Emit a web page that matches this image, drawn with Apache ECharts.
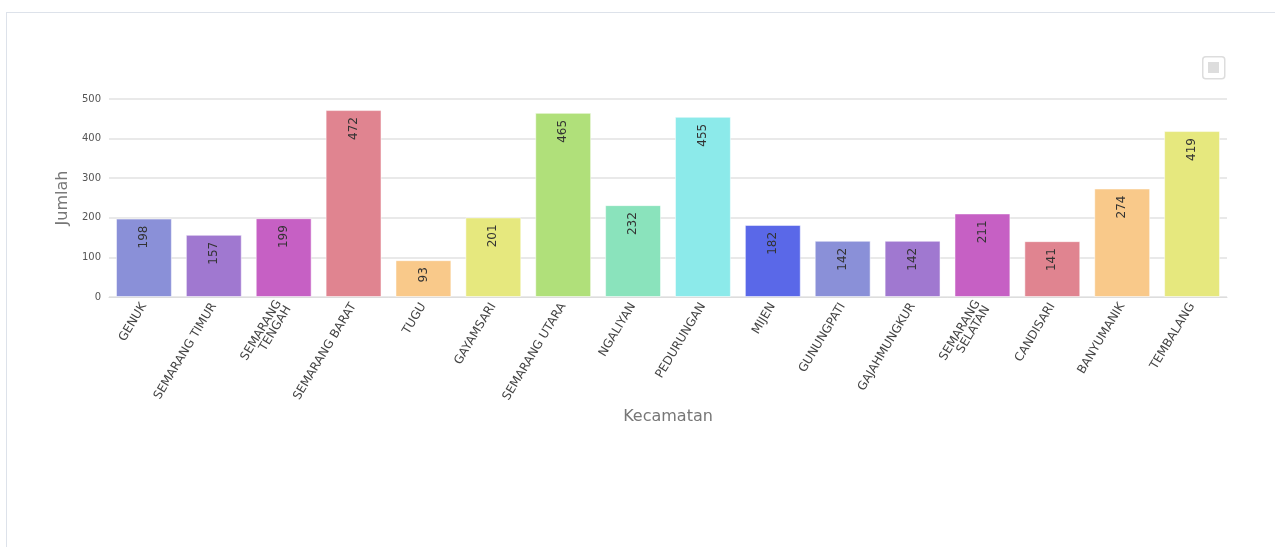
<!DOCTYPE html>
<html><head><meta charset="utf-8">
<script src="https://cdn.jsdelivr.net/npm/echarts@6/dist/echarts.min.js"></script>
<style>
html,body{margin:0;padding:0;background:#fff;}
#frame{position:absolute;left:6px;top:12px;width:1290px;height:600px;border:1px solid #dde2ea;box-sizing:border-box;}
#c{position:absolute;left:0;top:0;width:1275px;height:547px;}
</style></head>
<body>
<div id="frame"></div>
<div id="c"></div>
<script>
const categories = ['GENUK','SEMARANG TIMUR','SEMARANG\nTENGAH','SEMARANG BARAT','TUGU','GAYAMSARI','SEMARANG UTARA','NGALIYAN','PEDURUNGAN','MIJEN','GUNUNGPATI','GAJAHMUNGKUR','SEMARANG\nSELATAN','CANDISARI','BANYUMANIK','TEMBALANG'];
const values = [198,157,199,472,93,201,465,232,455,182,142,142,211,141,274,419];
const colors = ['#8a90d8','#a078d0','#c660c4','#e08490','#f9c98a','#e6e87e','#b0e07a','#8ae3bc','#8ceaea','#5a68e8','#8a90d8','#a078d0','#c660c4','#e08490','#f9c98a','#e6e87e'];

const FONT = 'DejaVu Sans';
const chart = echarts.init(document.getElementById('c'), null, {renderer:'canvas'});
chart.setOption({
  animation:false,
  grid:{left:109,right:48,top:99,bottom:250},
  xAxis:{
    type:'category', data:categories,
    name:'Kecamatan', nameLocation:'middle', nameGap:112,
    nameTextStyle:{fontSize:16,color:'#777',fontFamily:FONT},
    axisLine:{lineStyle:{color:'#ddd'}},
    axisTick:{show:false},
    axisLabel:{rotate:59,fontSize:12,color:'#444',fontFamily:FONT,interval:0,margin:7,lineHeight:11}
  },
  yAxis:{
    type:'value', min:0, max:500, interval:100,
    name:'Jumlah', nameLocation:'middle', nameGap:38, nameRotate:90,
    nameTextStyle:{fontSize:16,color:'#777',fontFamily:FONT},
    axisLine:{show:false}, axisTick:{show:false},
    axisLabel:{fontSize:10,color:'#555',fontFamily:FONT,margin:8},
    splitLine:{lineStyle:{color:'#e2e2e2',width:1.5}}
  },
  series:[{
    type:'bar', barWidth:'80%',
    data: values.map((v,i)=>({value:v,itemStyle:{color:colors[i]}})),
    itemStyle:{borderColor:'rgba(255,255,255,0.5)',borderWidth:1},
    label:{show:true,position:'insideTop',rotate:90,align:'right',verticalAlign:'middle',offset:[-2,0],
      fontSize:12,color:'#333',fontFamily:FONT}
  }],
  graphic:[
    {type:'rect',left:1202,top:56,shape:{width:22,height:22,r:3},style:{fill:'#fff',stroke:'#ddd',lineWidth:1.5}},
    {type:'rect',left:1208,top:62,shape:{width:11,height:11},style:{fill:'#ddd'}}
  ]
});
</script>
</body></html>
